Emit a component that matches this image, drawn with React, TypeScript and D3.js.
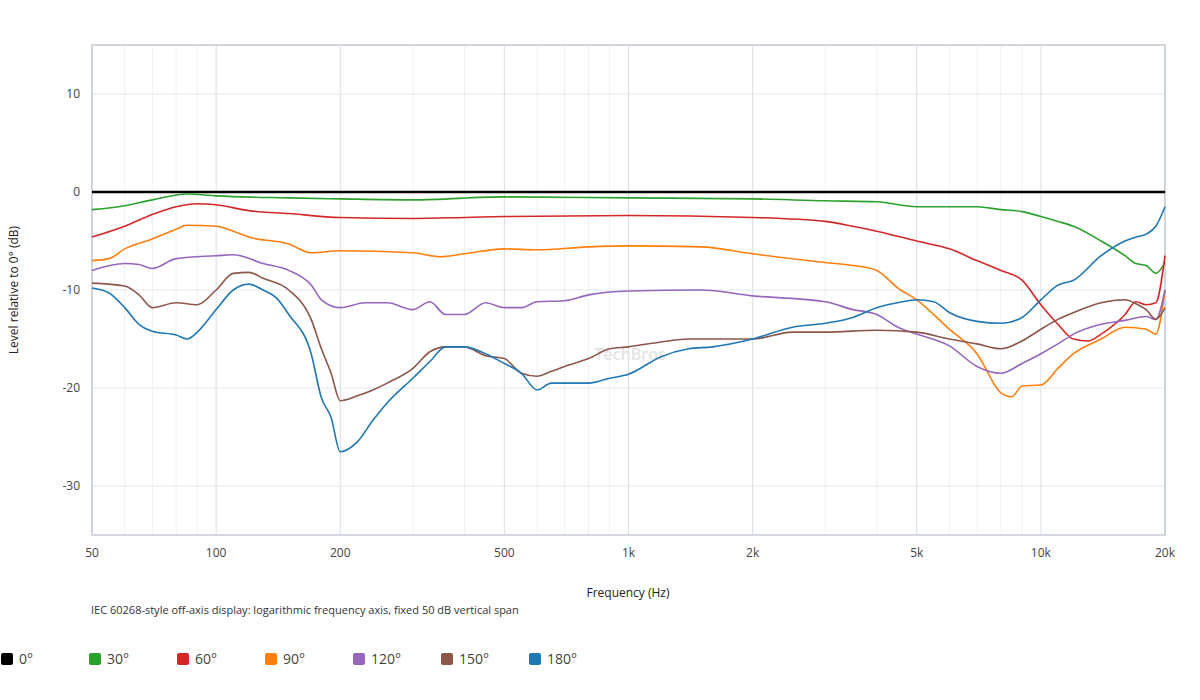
import React from "react";
import * as d3 from "d3";

const series = ["0°", "30°", "60°", "90°", "120°", "150°", "180°"];
const colors = ["#000000", "#2ca02c", "#d62728", "#ff7f0e", "#9467bd", "#8c564b", "#1f77b4"];

const f0 = [50, 20000];
const v0 = [0, 0];
const f30 = [50, 60, 70, 85, 100, 150, 200, 300, 500, 1000, 2000, 3000, 4000, 5000, 7000, 8000, 9000, 10000, 11000, 12000, 14000, 16000, 17000, 18000, 19000, 20000];
const v30 = [-1.8, -1.4, -0.8, -0.2, -0.4, -0.6, -0.7, -0.8, -0.5, -0.6, -0.7, -0.9, -1.0, -1.5, -1.5, -1.8, -2.0, -2.5, -3.0, -3.5, -5, -6.5, -7.3, -7.5, -8.3, -7.2];
const f60 = [50, 60, 70, 80, 90, 100, 120, 150, 200, 300, 400, 500, 1000, 2000, 3000, 3500, 4000, 5000, 6000, 7000, 8000, 9000, 10000, 11000, 12000, 13000, 14000, 16000, 17000, 18000, 19000, 20000];
const v60 = [-4.6, -3.5, -2.3, -1.5, -1.2, -1.3, -1.9, -2.2, -2.6, -2.7, -2.6, -2.5, -2.4, -2.6, -3.0, -3.5, -4.0, -5.0, -5.8, -7, -8, -9, -11.5, -13.5, -15, -15.2, -14.5, -12.5, -11.2, -11.5, -11.3, -6.5];
const f90 = [50, 55, 60, 70, 80, 85, 100, 110, 120, 150, 170, 200, 300, 350, 400, 500, 600, 800, 1000, 1500, 2000, 3000, 3500, 4000, 4500, 5000, 6000, 7000, 8000, 8500, 9000, 10000, 11000, 12000, 14000, 16000, 18000, 19000, 20000];
const v90 = [-7, -6.8, -5.8, -4.8, -3.8, -3.4, -3.5, -4, -4.6, -5.3, -6.2, -6.0, -6.2, -6.6, -6.3, -5.8, -5.9, -5.6, -5.5, -5.6, -6.3, -7.2, -7.5, -8, -9.8, -11, -14, -16.5, -20.5, -20.9, -19.8, -19.7, -18, -16.5, -15, -13.8, -14, -14.5, -10];
const f120 = [50, 60, 65, 70, 80, 100, 110, 130, 150, 170, 180, 200, 230, 260, 300, 330, 360, 400, 450, 500, 550, 600, 700, 800, 1000, 1500, 2000, 3000, 3500, 4000, 4500, 5000, 6000, 7000, 8000, 9000, 10000, 11000, 12000, 14000, 16000, 18000, 19000, 20000];
const v120 = [-8, -7.3, -7.4, -7.8, -6.8, -6.5, -6.4, -7.3, -8, -9.5, -11, -11.8, -11.3, -11.3, -12, -11.2, -12.5, -12.5, -11.3, -11.8, -11.8, -11.2, -11.1, -10.5, -10.1, -10, -10.6, -11.2, -12, -12.5, -13.8, -14.5, -15.7, -17.8, -18.5, -17.5, -16.5, -15.5, -14.5, -13.5, -13.1, -12.7, -13, -10];
const f150 = [50, 60, 65, 70, 80, 90, 100, 110, 120, 130, 150, 170, 180, 190, 200, 220, 240, 260, 300, 330, 360, 400, 450, 500, 550, 600, 650, 700, 800, 900, 1000, 1200, 1400, 2000, 2500, 3000, 4000, 5000, 6000, 7000, 8000, 9000, 10000, 11000, 12000, 14000, 16000, 17000, 18000, 19000, 20000];
const v150 = [-9.3, -9.6, -10.5, -11.8, -11.3, -11.5, -10, -8.3, -8.2, -8.8, -10, -13, -16, -18.5, -21.3, -20.8, -20.2, -19.5, -18, -16.3, -15.8, -15.8, -16.7, -17, -18.5, -18.8, -18.3, -17.8, -17, -16, -15.8, -15.3, -15.0, -15, -14.3, -14.3, -14.1, -14.3, -15, -15.5, -16, -15.2, -14, -13, -12.3, -11.3, -11.0, -11.4, -12.0, -13, -11.8];
const f180 = [50, 55, 60, 65, 70, 80, 85, 90, 100, 110, 120, 130, 140, 150, 170, 180, 190, 200, 220, 240, 260, 300, 330, 360, 400, 450, 500, 550, 600, 650, 700, 800, 900, 1000, 1200, 1400, 1600, 2000, 2500, 3000, 3500, 4000, 4500, 5000, 5500, 6000, 7000, 8000, 9000, 10000, 11000, 12000, 14000, 16000, 17000, 18000, 19000, 20000];
const v180 = [-9.8, -10.3, -11.8, -13.5, -14.2, -14.6, -15, -14.3, -12, -10, -9.4, -10, -10.8, -12.5, -16.5, -21, -23, -26.5, -25.5, -23.3, -21.5, -19, -17.3, -15.8, -15.8, -16.5, -17.5, -18.5, -20.2, -19.5, -19.5, -19.5, -19, -18.6, -16.8, -16, -15.8, -15, -13.8, -13.4, -12.8, -11.8, -11.3, -11, -11.2, -12.3, -13.2, -13.4, -12.8, -11, -9.5, -9, -6.5, -5, -4.6, -4.3, -3.5, -1.5];

const freqs = [f0, f30, f60, f90, f120, f150, f180];
const vals = [v0, v30, v60, v90, v120, v150, v180];

const xTicks = [50, 100, 200, 500, 1000, 2000, 5000, 10000, 20000];
const xTickLabels = ["50", "100", "200", "500", "1k", "2k", "5k", "10k", "20k"];
const minorX = [60, 70, 80, 90, 300, 400, 600, 700, 800, 900, 3000, 4000, 6000, 7000, 8000, 9000];
const yTicks = [10, 0, -10, -20, -30];

export default function App() {
  const L = 92, R = 1165, T = 45, B = 535;
  const x = d3.scaleLog().domain([50, 20000]).range([L, R]);
  const y = d3.scaleLinear().domain([-35, 15]).range([B, T]);
  const line = d3.line<[number, number]>().x(d => x(d[0])).y(d => y(d[1])).curve(d3.curveMonotoneX);
  const font = "'Open Sans', 'Noto Sans', sans-serif";
  return (
    <svg width={1200} height={700} style={{ position: "absolute", left: 0, top: 0, fontFamily: font }}>
      <rect width={1200} height={700} fill="#fff" />
      {minorX.map(t => <line key={"m" + t} x1={x(t)} x2={x(t)} y1={T} y2={B} stroke="#eef1f4" />)}
      {xTicks.map(t => <line key={"x" + t} x1={x(t)} x2={x(t)} y1={T} y2={B} stroke="#d9dee4" />)}
      {yTicks.map(t => <line key={"y" + t} x1={L} x2={R} y1={y(t)} y2={y(t)} stroke="#e3e7eb" />)}
      <rect x={L} y={T} width={R - L} height={B - T} fill="none" stroke="#c4cbd3" strokeWidth={1.5} />
      <text x={630} y={360} textAnchor="middle" fill="#e4e4e4" fontSize={16} fontWeight={600}>TechBros</text>
      {series.map((s, i) => (
        <path key={s} d={line(freqs[i].map((f, j) => [f, vals[i][j]] as [number, number])) || ""} fill="none" stroke={colors[i]} strokeWidth={i === 0 ? 2.5 : 1.6} />
      ))}
      {xTicks.map((t, i) => <text key={"xl" + t} x={x(t)} y={557} textAnchor="middle" fontSize={12} fill="#444">{xTickLabels[i]}</text>)}
      {yTicks.map(t => <text key={"yl" + t} x={80} y={y(t) + 4} textAnchor="end" fontSize={12} fill="#444">{t}</text>)}
      <text transform={`translate(18,${(T + B) / 2}) rotate(-90)`} textAnchor="middle" fontSize={12} fill="#222">Level relative to 0° (dB)</text>
      <text x={628} y={597} textAnchor="middle" fontSize={12} fill="#222">Frequency (Hz)</text>
      <text x={91} y={614} fontSize={11} fill="#333">IEC 60268-style off-axis display: logarithmic frequency axis, fixed 50 dB vertical span</text>
      {series.map((s, i) => (
        <g key={"lg" + s} transform={`translate(${i * 88},0)`}>
          <rect x={1} y={653} width={12} height={12} rx={2} fill={colors[i]} />
          <text x={19} y={664} fontSize={14} fill="#444">{s}</text>
        </g>
      ))}
    </svg>
  );
}
